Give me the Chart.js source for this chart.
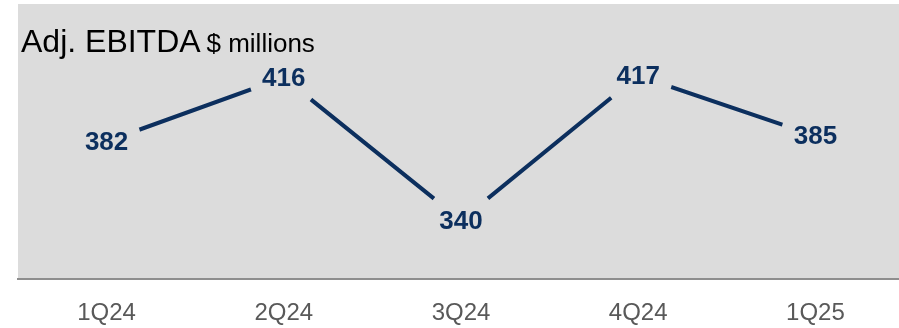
<!DOCTYPE html>
<html>
<head>
<meta charset="utf-8">
<script src="https://cdn.jsdelivr.net/npm/chart.js@4/dist/chart.umd.min.js"></script>
<style>
  html, body { margin: 0; padding: 0; background: #ffffff; overflow: hidden; }
  #wrap { position: relative; width: 899px; height: 328px; overflow: hidden; }
</style>
</head>
<body>
<div id="wrap"><canvas id="c" width="904" height="328"></canvas></div>
<script>
// Quarterly adjusted EBITDA, $ millions
const quarters = ['1Q24', '2Q24', '3Q24', '4Q24', '1Q25'];
const ebitda = [382, 416, 340, 417, 385];

const titleMain = 'Adj. EBITDA';
const titleUnit = '$ millions';

const NAVY = '#0c2f5e';
const PANEL = '#dcdcdc';
const FONT = '"Liberation Sans", Arial, sans-serif';

// Grey panel behind the plot area
const panelPlugin = {
  id: 'panel',
  beforeDraw(chart) {
    const { ctx, chartArea: a } = chart;
    ctx.save();
    ctx.fillStyle = PANEL;
    ctx.fillRect(a.left, a.top, a.right - a.left, a.bottom - a.top);
    ctx.restore();
  }
};

// Leave a gap in the line around every value label
const gapPlugin = {
  id: 'labelGaps',
  beforeDatasetsDraw(chart) {
    const { ctx } = chart;
    const pts = chart.getDatasetMeta(0).data;
    ctx.save();
    ctx.beginPath();
    ctx.rect(0, 0, chart.width, chart.height);
    pts.forEach(p => {
      ctx.moveTo(p.x + 35, p.y);
      ctx.arc(p.x, p.y, 35, 0, Math.PI * 2);
    });
    ctx.clip('evenodd');
  },
  afterDatasetsDraw(chart) {
    chart.ctx.restore();
  }
};

// Value labels centred on each point
const valueLabels = {
  id: 'valueLabels',
  afterDatasetsDraw(chart) {
    const { ctx } = chart;
    const ds = chart.data.datasets[0];
    ctx.save();
    ctx.font = 'bold 26px ' + FONT;
    ctx.fillStyle = NAVY;
    ctx.textAlign = 'center';
    ctx.textBaseline = 'middle';
    chart.getDatasetMeta(0).data.forEach((p, i) => {
      ctx.fillText(String(ds.data[i]), p.x, p.y + 1);
    });
    ctx.restore();
  }
};

// Heading inside the panel
const headingPlugin = {
  id: 'heading',
  afterDraw(chart) {
    const { ctx } = chart;
    ctx.save();
    ctx.fillStyle = '#000000';
    ctx.textBaseline = 'alphabetic';
    ctx.textAlign = 'left';
    ctx.font = '32px ' + FONT;
    ctx.fillText(titleMain, 21, 52);
    const w = ctx.measureText(titleMain + ' ').width;
    ctx.font = '26px ' + FONT;
    ctx.fillText(titleUnit, 21 + w - 3, 52);
    ctx.restore();
  }
};

new Chart(document.getElementById('c'), {
  type: 'line',
  data: {
    labels: quarters,
    datasets: [{
      data: ebitda,
      borderColor: NAVY,
      borderWidth: 4,
      pointRadius: 0,
      tension: 0,
      clip: false
    }]
  },
  options: {
    responsive: false,
    animation: false,
    layout: { padding: { left: 18, right: 0, top: 4, bottom: -20 } },
    plugins: { legend: { display: false }, tooltip: { enabled: false } },
    scales: {
      x: {
        offset: true,
        grid: { display: false, drawTicks: false },
        border: { display: true, color: '#8e8e8e', width: 2 },
        ticks: {
          color: '#595959',
          font: { family: FONT, size: 24 },
          padding: 20
        }
      },
      y: {
        display: false,
        min: 308.7,
        max: 455.2
      }
    }
  },
  plugins: [panelPlugin, gapPlugin, valueLabels, headingPlugin]
});
</script>
</body>
</html>
